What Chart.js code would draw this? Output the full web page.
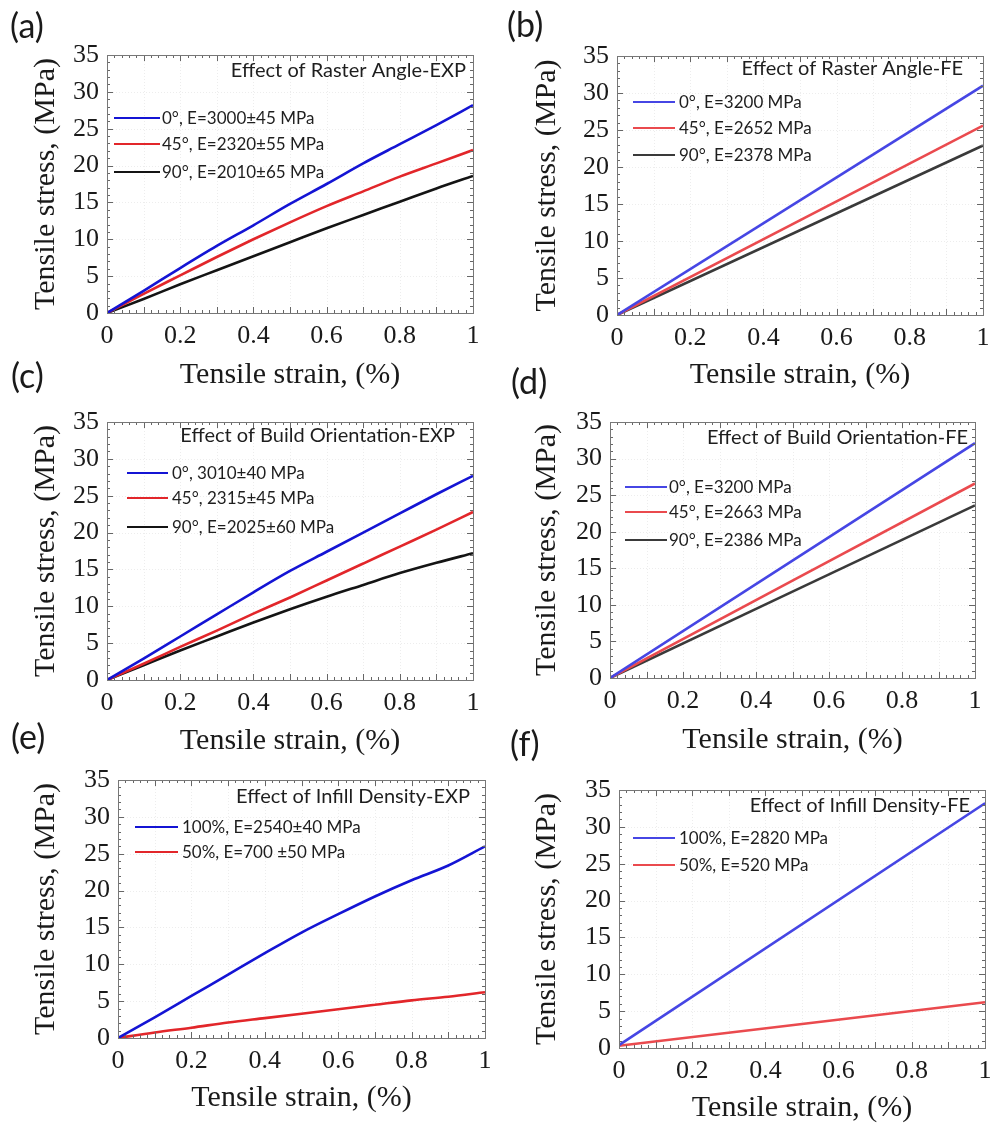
<!DOCTYPE html>
<html>
<head>
<meta charset="utf-8">
<script src="https://cdn.jsdelivr.net/npm/chart.js@4.4.1/dist/chart.umd.min.js"></script>
<style>
  html, body { margin: 0; padding: 0; background: #fff; }
  body { width: 998px; height: 1123px; position: relative; overflow: hidden; }
  canvas { position: absolute; left: 0; top: 0; }
</style>
</head>
<body>
<canvas id="panelA" width="998" height="1123"></canvas>
<canvas id="panelB" width="998" height="1123"></canvas>
<canvas id="panelC" width="998" height="1123"></canvas>
<canvas id="panelD" width="998" height="1123"></canvas>
<canvas id="panelE" width="998" height="1123"></canvas>
<canvas id="panelF" width="998" height="1123"></canvas>
<script>
// Tensile strain (%) sampling for experimental curves
const strainExp = [0, 0.1, 0.2, 0.3, 0.4, 0.5, 0.6, 0.7, 0.8, 0.9, 1.0];
// FE curves are straight lines: start and end of the elastic response
const strainFe = [0, 1.0];

// Axis ticks
const xTicks = [0, 0.2, 0.4, 0.6, 0.8, 1];
const yTicks = [0, 5, 10, 15, 20, 25, 30, 35];

// (a) Effect of raster angle, experiment (MPa)
const rasterExp0 = [0, 3.0, 6.1, 9.1, 11.9, 14.8, 17.5, 20.3, 22.9, 25.5, 28.2];
const rasterExp45 = [0, 2.6, 5.1, 7.6, 10.0, 12.3, 14.5, 16.5, 18.5, 20.3, 22.1];
const rasterExp90 = [0, 1.9, 3.9, 5.8, 7.7, 9.6, 11.5, 13.3, 15.1, 16.9, 18.6];
const rasterExpLabels = ['0°, E=3000±45 MPa', '45°, E=2320±55 MPa', '90°, E=2010±65 MPa'];

// (b) Effect of raster angle, FE (MPa)
const rasterFe0 = [0, 31.0];
const rasterFe45 = [0, 25.6];
const rasterFe90 = [0, 22.9];
const rasterFeLabels = ['0°, E=3200 MPa', '45°, E=2652 MPa', '90°, E=2378 MPa'];

// (c) Effect of build orientation, experiment (MPa)
const buildExp0 = [0, 2.9, 5.9, 8.9, 11.9, 14.8, 17.4, 20.0, 22.6, 25.2, 27.7];
const buildExp45 = [0, 2.2, 4.5, 6.7, 9.0, 11.2, 13.5, 15.8, 18.1, 20.4, 22.8];
const buildExp90 = [0, 2.0, 4.0, 5.9, 7.8, 9.6, 11.3, 12.9, 14.5, 15.9, 17.2];
const buildExpLabels = ['0°, 3010±40 MPa', '45°, 2315±45 MPa', '90°, E=2025±60 MPa'];

// (d) Effect of build orientation, FE (MPa)
const buildFe0 = [0, 32.1];
const buildFe45 = [0, 26.6];
const buildFe90 = [0, 23.6];
const buildFeLabels = ['0°, E=3200 MPa', '45°, E=2663 MPa', '90°, E=2386 MPa'];

// (e) Effect of infill density, experiment (MPa)
const infillExp100 = [0, 2.8, 5.7, 8.6, 11.5, 14.3, 16.8, 19.2, 21.4, 23.4, 26.0];
const infillExp50 = [0, 0.75, 1.4, 2.1, 2.7, 3.3, 3.9, 4.5, 5.1, 5.6, 6.2];
const infillExpLabels = ['100%, E=2540±40 MPa', '50%, E=700 ±50 MPa'];

// (f) Effect of infill density, FE (MPa)
const infillFe100 = [0.4, 33.2];
const infillFe50 = [0.3, 6.2];
const infillFeLabels = ['100%, E=2820 MPa', '50%, E=520 MPa'];

const PAGE_W = 998, PAGE_H = 1123;
const SERIF = "'Liberation Serif', 'Times New Roman', serif";
const SANS = "Lato, 'Liberation Sans', sans-serif";
const INK = '#1a1a1a';

const expColors = ['#1414d4', '#e2262a', '#141414'];
const feColors = ['#4646e4', '#ea4a4e', '#3a3a3a'];

function pairs(xs, ys) { return xs.map((x, i) => ({ x, y: ys[i] })); }

// Inward ticks on all four sides, frame, panel tag, caption and legend
const panelDecor = {
  id: 'panelDecor',
  beforeDatasetsDraw(chart, args, o) {
    const ctx = chart.ctx;
    const { left, right, top, bottom } = chart.chartArea;
    const xs = chart.scales.x, ys = chart.scales.y;
    ctx.save();
    ctx.strokeStyle = 'rgba(0,0,0,0.07)';
    ctx.lineWidth = 1;
    ctx.setLineDash([1, 2]);
    for (let v = 0.1; v < 0.999; v += 0.1) {
      const px = Math.round(xs.getPixelForValue(v)) + 0.5;
      ctx.beginPath(); ctx.moveTo(px, top); ctx.lineTo(px, bottom); ctx.stroke();
    }
    for (let v = 5; v < 35; v += 5) {
      const py = Math.round(ys.getPixelForValue(v)) + 0.5;
      ctx.beginPath(); ctx.moveTo(left, py); ctx.lineTo(right, py); ctx.stroke();
    }
    ctx.restore();
  },
  afterDatasetsDraw(chart, args, o) {
    const ctx = chart.ctx;
    const { left, right, top, bottom } = chart.chartArea;
    const xs = chart.scales.x, ys = chart.scales.y;
    ctx.save();
    ctx.strokeStyle = '#666';
    ctx.lineWidth = 1;
    // x minor/major ticks
    for (let i = 0; i <= 50; i++) {
      const px = Math.round(xs.getPixelForValue(i * 0.02)) + 0.5;
      const len = i % 5 === 0 ? 6 : 3;
      ctx.beginPath();
      ctx.moveTo(px, bottom); ctx.lineTo(px, bottom - len);
      ctx.moveTo(px, top); ctx.lineTo(px, top + len);
      ctx.stroke();
    }
    // y minor/major ticks
    for (let v = 0; v <= 35; v++) {
      const py = Math.round(ys.getPixelForValue(v)) + 0.5;
      const len = v % 5 === 0 ? 6 : 3;
      ctx.beginPath();
      ctx.moveTo(left, py); ctx.lineTo(left + len, py);
      ctx.moveTo(right, py); ctx.lineTo(right - len, py);
      ctx.stroke();
    }
    ctx.strokeStyle = '#777';
    ctx.strokeRect(Math.round(left) + 0.5, Math.round(top) + 0.5,
                   Math.round(right - left), Math.round(bottom - top));

    // panel tag
    ctx.fillStyle = INK;
    ctx.font = `34px ${SANS}`;
    ctx.textAlign = 'left';
    ctx.textBaseline = 'middle';
    ctx.fillText(o.tag.text, o.tag.x, o.tag.y);

    // caption
    ctx.font = `20px ${SANS}`;
    ctx.textAlign = 'right';
    ctx.textBaseline = 'alphabetic';
    ctx.fillStyle = '#1e1e1e';
    ctx.fillText(o.caption.text, o.caption.right, o.caption.base);

    // legend
    ctx.font = `17px ${SANS}`;
    ctx.textAlign = 'left';
    ctx.textBaseline = 'middle';
    chart.data.datasets.forEach((ds, i) => {
      const y = o.legend.rows[i];
      ctx.strokeStyle = ds.borderColor;
      ctx.lineWidth = 2;
      ctx.beginPath(); ctx.moveTo(o.legend.x0, y); ctx.lineTo(o.legend.x1, y); ctx.stroke();
      ctx.fillStyle = '#1e1e1e';
      ctx.fillText(ds.label, o.legend.tx, y + 1);
    });
    ctx.restore();
  }
};

function makePanel(id, p) {
  const titleHalf = 18;                     // half line height of 30px title font
  const yAxisW = p.plot.left - (p.yTitleX - titleHalf);
  const xAxisH = (p.xTitleY + titleHalf) - p.plot.bottom;
  const datasets = p.series.map((s, i) => ({
    label: p.labels[i],
    data: pairs(p.strain, s),
    borderColor: p.colors[i],
    borderWidth: 2.6,
    pointRadius: 0,
    cubicInterpolationMode: 'monotone',
    fill: false
  }));
  return new Chart(document.getElementById(id), {
    type: 'scatter',
    data: { datasets },
    options: {
      responsive: false,
      animation: false,
      events: [],
      devicePixelRatio: 1,
      showLine: true,
      layout: {
        padding: {
          left: p.plot.left - yAxisW,
          top: p.plot.top,
          right: PAGE_W - p.plot.right,
          bottom: PAGE_H - p.plot.bottom - xAxisH
        }
      },
      plugins: {
        legend: { display: false },
        tooltip: { enabled: false },
        panelDecor: { tag: p.tag, caption: p.caption, legend: p.legend }
      },
      scales: {
        x: {
          type: 'linear', min: 0, max: 1,
          afterBuildTicks: s => { s.ticks = xTicks.map(v => ({ value: v })); },
          ticks: {
            font: { family: SERIF, size: 26 }, color: INK, padding: 8,
            maxRotation: 0, autoSkip: false,
            callback: v => String(+Number(v).toFixed(2))
          },
          grid: { display: false, drawTicks: false },
          border: { display: false },
          title: {
            display: true, text: 'Tensile strain, (%)', color: INK,
            font: { family: SERIF, size: 30 }, padding: 0
          },
          afterFit: s => { s.height = xAxisH; s.paddingLeft = 0; s.paddingRight = 0; }
        },
        y: {
          type: 'linear', min: 0, max: 35,
          afterBuildTicks: s => { s.ticks = yTicks.map(v => ({ value: v })); },
          ticks: {
            font: { family: SERIF, size: 26 }, color: INK, padding: 8, autoSkip: false
          },
          grid: { display: false, drawTicks: false },
          border: { display: false },
          title: {
            display: true, text: 'Tensile stress, (MPa)', color: INK,
            font: { family: SERIF, size: 30 }, padding: 0
          },
          afterFit: s => { s.width = yAxisW; s.paddingTop = 0; s.paddingBottom = 0; }
        }
      }
    },
    plugins: [panelDecor]
  });
}

makePanel('panelA', {
  strain: strainExp, series: [rasterExp0, rasterExp45, rasterExp90],
  labels: rasterExpLabels, colors: expColors,
  plot: { left: 107, top: 55, right: 473, bottom: 313 },
  yTitleX: 46, xTitleY: 375,
  tag: { text: '(a)', x: 10, y: 27 },
  caption: { text: 'Effect of Raster Angle-EXP', right: 466, base: 77 },
  legend: { x0: 114, x1: 160, tx: 162, rows: [118, 144, 172] }
});

makePanel('panelB', {
  strain: strainFe, series: [rasterFe0, rasterFe45, rasterFe90],
  labels: rasterFeLabels, colors: feColors,
  plot: { left: 617, top: 56, right: 983, bottom: 315 },
  yTitleX: 547, xTitleY: 375,
  tag: { text: '(b)', x: 507, y: 26 },
  caption: { text: 'Effect of Raster Angle-FE', right: 963, base: 75 },
  legend: { x0: 633, x1: 675, tx: 679, rows: [102, 128, 155] }
});

makePanel('panelC', {
  strain: strainExp, series: [buildExp0, buildExp45, buildExp90],
  labels: buildExpLabels, colors: expColors,
  plot: { left: 107, top: 422, right: 473, bottom: 680 },
  yTitleX: 46, xTitleY: 741,
  tag: { text: '(c)', x: 11, y: 377 },
  caption: { text: 'Effect of Build Orientation-EXP', right: 455, base: 442 },
  legend: { x0: 127, x1: 168, tx: 172, rows: [473, 498, 527] }
});

makePanel('panelD', {
  strain: strainFe, series: [buildFe0, buildFe45, buildFe90],
  labels: buildFeLabels, colors: feColors,
  plot: { left: 610, top: 422, right: 975, bottom: 678 },
  yTitleX: 547, xTitleY: 740,
  tag: { text: '(d)', x: 511, y: 383 },
  caption: { text: 'Effect of Build Orientation-FE', right: 968, base: 444 },
  legend: { x0: 625, x1: 667, tx: 669, rows: [487, 512, 540] }
});

makePanel('panelE', {
  strain: strainExp, series: [infillExp100, infillExp50],
  labels: infillExpLabels, colors: expColors,
  plot: { left: 118, top: 780, right: 485, bottom: 1038 },
  yTitleX: 46, xTitleY: 1098,
  tag: { text: '(e)', x: 11, y: 738 },
  caption: { text: 'Effect of Infill Density-EXP', right: 470, base: 803 },
  legend: { x0: 135, x1: 178, tx: 182, rows: [827, 852] }
});

makePanel('panelF', {
  strain: strainFe, series: [infillFe100, infillFe50],
  labels: infillFeLabels, colors: feColors,
  plot: { left: 619, top: 790, right: 985, bottom: 1048 },
  yTitleX: 547, xTitleY: 1108,
  tag: { text: '(f)', x: 510, y: 745 },
  caption: { text: 'Effect of Infill Density-FE', right: 970, base: 812 },
  legend: { x0: 633, x1: 675, tx: 679, rows: [838, 865] }
});
</script>
</body>
</html>
